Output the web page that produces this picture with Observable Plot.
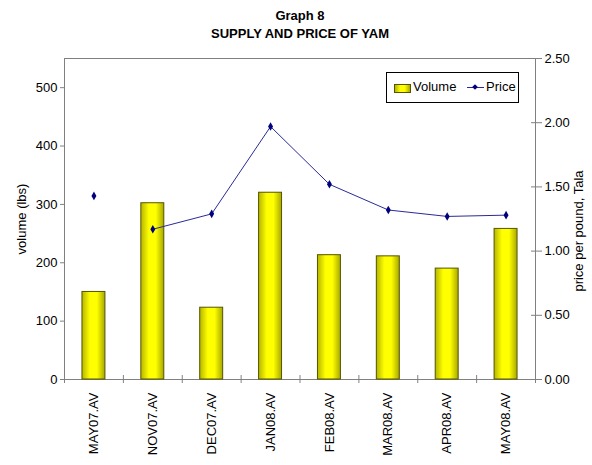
<!DOCTYPE html>
<html>
<head>
<meta charset="utf-8">
<script src="https://cdn.jsdelivr.net/npm/d3@7"></script>
<script src="https://cdn.jsdelivr.net/npm/@observablehq/plot@0.6"></script>
<style>
  html, body { margin: 0; padding: 0; background: #fff; }
  #wrap { position: relative; width: 592px; height: 465px; font-family: "Liberation Sans", Arial, sans-serif; }
  #title { height: 40px; width: 592px; text-align: center; font-weight: bold; font-size: 13px; line-height: 18px; padding-top: 7px; box-sizing: border-box; padding-left: 8px; }
  #legend { position: absolute; left: 386px; top: 72px; width: 131px; height: 29px; border: 1px solid #000; background: #fff; font-size: 13px; }
  #legend .sw { position: absolute; left: 7px; top: 11px; width: 15px; height: 7px; border: 1px solid #555500; background: linear-gradient(to right, #b5b500, #ffff00 35%, #ffff00 65%, #a8a800); }
  #legend .t1 { position: absolute; left: 26px; top: 6px; }
  #legend .ln { position: absolute; left: 80px; top: 14px; width: 17px; height: 1px; background: #2a2a9a; }
  #legend .dm { position: absolute; left: 86px; top: 12px; width: 4px; height: 4px; background: #000080; transform: rotate(45deg); }
  #legend .t2 { position: absolute; left: 99px; top: 6px; }
</style>
</head>
<body>
<div id="wrap">
  <div id="title">Graph 8<br>SUPPLY AND PRICE OF YAM</div>
  <div id="chart"></div>
  <div id="legend"><div class="sw"></div><span class="t1">Volume</span><div class="ln"></div><div class="dm"></div><span class="t2">Price</span></div>
</div>
<script>
const categories = ["MAY07.AV","NOV07.AV","DEC07.AV","JAN08.AV","FEB08.AV","MAR08.AV","APR08.AV","MAY08.AV"];
const volume = [150, 302, 123, 320, 213, 211, 190, 258];
const price = [1.43, 1.17, 1.29, 1.97, 1.52, 1.32, 1.27, 1.28];
const volumeTicks = [0, 100, 200, 300, 400, 500];
const priceTicks = [0, 0.5, 1, 1.5, 2, 2.5];
const volumeMax = 550;
const priceMax = 2.5;

const k = volumeMax / priceMax;
const data = categories.map((c, i) => ({i, cat: c, volume: volume[i], price: price[i]}));

const chart = Plot.plot({
  width: 592,
  height: 425,
  marginTop: 18,
  marginBottom: 86,
  marginLeft: 64,
  marginRight: 57,
  x: {domain: [-0.5, categories.length - 0.5]},
  y: {domain: [0, volumeMax]},
  style: {fontFamily: "'Liberation Sans', Arial, sans-serif", fontSize: "13px", color: "#000", background: "#fff"},
  marks: [
    Plot.frame({stroke: "#808080"}),
    Plot.rectY(data, {x1: d => d.i - 0.195, x2: d => d.i + 0.195, y: "volume", fill: "url(#barGrad)", stroke: "#555500", strokeWidth: 1}),
    Plot.line(data.slice(1), {x: "i", y: d => d.price * k, stroke: "#2a2a9a", strokeWidth: 1}),
    Plot.dot(data, {x: "i", y: d => d.price * k, symbol: "diamond", r: 2.6, fill: "#000080", stroke: null}),
    Plot.axisY({ticks: volumeTicks, tickSize: 4, tickPadding: 3, stroke: "#808080", label: null}),
    Plot.axisY({anchor: "right", ticks: priceTicks.map(p => p * k), tickFormat: v => (v / k).toFixed(2), tickSize: 6, tickPadding: 3, stroke: "#808080", label: null}),
    Plot.axisY({anchor: "right", ticks: priceTicks.map(p => p * k), tickFormat: () => "", tickSize: -5, stroke: "#808080", label: null}),
    Plot.axisX({ticks: d3.range(categories.length + 1).map(i => i - 0.5), tickFormat: () => "", tickSize: 4, stroke: "#808080", label: null}),
    Plot.axisX({ticks: d3.range(categories.length + 1).map(i => i - 0.5), tickFormat: () => "", tickSize: -4, stroke: "#808080", label: null}),
    Plot.axisX({ticks: d3.range(categories.length), tickFormat: i => categories[i], tickRotate: -90, tickSize: 0, tickPadding: 13, label: null}),
    Plot.text(["volume (lbs)"], {frameAnchor: "left", dx: -43, rotate: -90, textAnchor: "middle", fontSize: 13}),
    Plot.text(["price per pound, Tala"], {frameAnchor: "right", dx: 43, dy: 12, rotate: -90, textAnchor: "middle", fontSize: 13})
  ]
});

const svg = d3.select(chart);
const defs = svg.insert("defs", ":first-child");
const g = defs.append("linearGradient").attr("id", "barGrad").attr("x1", "0").attr("x2", "1").attr("y1", "0").attr("y2", "0");
g.append("stop").attr("offset", "0%").attr("stop-color", "#b5b500");
g.append("stop").attr("offset", "35%").attr("stop-color", "#ffff00");
g.append("stop").attr("offset", "65%").attr("stop-color", "#ffff00");
g.append("stop").attr("offset", "100%").attr("stop-color", "#a8a800");

document.getElementById("chart").appendChild(chart);
</script>
</body>
</html>
